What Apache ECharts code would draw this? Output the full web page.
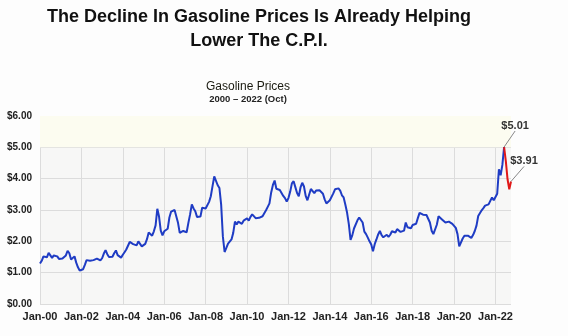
<!DOCTYPE html>
<html><head><meta charset="utf-8">
<script src="https://cdn.jsdelivr.net/npm/echarts@6/dist/echarts.min.js"></script>
<style>html,body{margin:0;padding:0;background:#fdfdfd}#c{width:568px;height:336px}</style>
</head><body><div id="c"></div>
<script>
const years = ['00','01','02','03','04','05','06','07','08','09','10','11','12','13','14','15','16','17','18','19','20','21','22'];
const monthNames = ['Jan','Feb','Mar','Apr','May','Jun','Jul','Aug','Sep','Oct','Nov','Dec'];
// Monthly US regular gasoline price ($/gal), Jan 2000 - Oct 2022
const prices = [
 1.29,1.38,1.52,1.47,1.49,1.63,1.55,1.47,1.55,1.53,1.52,1.44,
 1.45,1.45,1.41,1.55,1.70,1.62,1.42,1.42,1.52,1.32,1.17,1.07,
 1.08,1.11,1.25,1.40,1.39,1.38,1.40,1.40,1.40,1.45,1.42,1.39,
 1.46,1.61,1.72,1.59,1.50,1.49,1.51,1.62,1.71,1.56,1.51,1.48,
 1.57,1.65,1.74,1.80,1.98,1.97,1.91,1.88,1.87,2.00,1.98,1.84,
 1.82,1.92,2.07,2.28,2.22,2.18,2.32,2.51,3.04,2.79,2.34,2.19,
 2.32,2.31,2.40,2.76,2.95,2.92,3.00,2.99,2.59,2.27,2.24,2.33,
 2.27,2.29,2.59,2.86,3.18,3.05,2.96,2.78,2.79,2.79,3.07,3.02,
 3.05,3.03,3.26,3.44,3.76,4.07,4.10,3.79,3.70,3.17,2.15,1.66,
 1.79,1.93,1.95,2.06,2.27,2.63,2.54,2.63,2.57,2.56,2.66,2.62,
 2.73,2.66,2.78,2.86,2.87,2.74,2.74,2.75,2.70,2.80,2.85,2.99,
 3.10,3.21,3.56,3.80,3.94,3.68,3.65,3.64,3.61,3.45,3.38,3.27,
 3.38,3.58,3.85,3.92,3.73,3.54,3.44,3.72,3.87,3.75,3.45,3.31,
 3.32,3.67,3.71,3.54,3.62,3.63,3.63,3.57,3.52,3.34,3.21,3.25,
 3.31,3.37,3.53,3.66,3.67,3.69,3.62,3.47,3.40,3.17,2.91,2.55,
 2.05,2.19,2.41,2.40,2.67,2.76,2.75,2.60,2.31,2.23,2.12,2.00,
 1.90,1.68,1.91,2.06,2.22,2.33,2.20,2.13,2.19,2.21,2.14,2.21,
 2.32,2.27,2.28,2.39,2.35,2.30,2.25,2.34,2.60,2.45,2.51,2.42,
 2.52,2.56,2.56,2.74,2.91,2.89,2.85,2.84,2.84,2.87,2.60,2.34,
 2.23,2.27,2.53,2.80,2.84,2.70,2.71,2.60,2.59,2.63,2.59,2.56,
 2.55,2.43,2.23,1.84,1.87,2.09,2.18,2.18,2.18,2.16,2.11,2.20,
 2.33,2.50,2.81,2.86,2.99,3.06,3.14,3.16,3.18,3.29,3.40,3.31,
 3.32,3.52,4.30,4.11,4.44,5.01,4.56,3.98,3.66,3.91
];
const peakIndex = 269; // Jun-22
const yTicks = [0,1,2,3,4,5,6];

const categories = [];
years.forEach(y => monthNames.forEach(m => categories.push(m + '-' + y)));
categories.length = prices.length;

const blue = prices.map((v,i) => i <= peakIndex ? v : null);
const red = prices.map((v,i) => {
  if (i < peakIndex) return null;
  if (i === peakIndex || i === prices.length - 1) {
    return {value: v, label: {show: true}, labelLine: {show: true}};
  }
  return v;
});

const chart = echarts.init(document.getElementById('c'));
const FONT = '"Liberation Sans", Arial, sans-serif';
chart.setOption({
  animation: false,
  backgroundColor: '#fdfdfd',
  textStyle: {fontFamily: FONT},
  title: [
    {text: 'The Decline In Gasoline Prices Is Already Helping\nLower The C.P.I.', left: 254, top: 0, textAlign: 'center',
     textStyle: {fontFamily: FONT, fontSize: 18, fontWeight: 'bold', color: '#111', lineHeight: 24}},
    {text: 'Gasoline Prices', subtext: '2000 – 2022 (Oct)', left: 243, top: 76, textAlign: 'center', itemGap: 1,
     textStyle: {fontFamily: FONT, fontSize: 12, fontWeight: 'normal', color: '#1a1a10'},
     subtextStyle: {fontFamily: FONT, fontSize: 9.5, fontWeight: 'bold', color: '#222'}}
  ],
  grid: {left: 40, right: 57, top: 116, bottom: 32, show: true, backgroundColor: '#f7f7f6', borderWidth: 0},
  xAxis: {
    type: 'category', data: categories, boundaryGap: false,
    axisLine: {show: false}, axisTick: {show: false},
    axisLabel: {interval: 23, color: '#222', fontWeight: 'bold', fontSize: 11, fontFamily: FONT, margin: 7},
    splitLine: {show: true, interval: 23, lineStyle: {color: '#dcdcdc', width: 1}}
  },
  yAxis: {
    type: 'value', min: yTicks[0], max: yTicks[yTicks.length-1], interval: 1,
    axisLine: {show: false}, axisTick: {show: false},
    axisLabel: {color: '#222', fontWeight: 'bold', fontSize: 10, fontFamily: FONT, margin: 8,
      formatter: v => '$' + v.toFixed(2)},
    splitLine: {lineStyle: {color: '#dcdcdc', width: 1}}
  },
  series: [
    {type: 'line', data: blue, symbol: 'none', lineStyle: {color: '#1f3cc4', width: 2}, z: 3,
     markArea: {silent: true, itemStyle: {color: '#fcfcf0'}, data: [[{yAxis: 5}, {yAxis: 6}]]}},
    {type: 'line', data: red, symbol: 'circle', symbolSize: 0.01, showSymbol: true, showAllSymbol: true,
     itemStyle: {color: '#e01818'}, lineStyle: {color: '#e01818', width: 2}, z: 4,
     label: {show: false, position: 'top', formatter: p => '$' + p.value.toFixed(2), color: '#333', fontWeight: 'bold', fontSize: 11, fontFamily: FONT},
     labelLine: {show: true, lineStyle: {color: '#888', width: 1}},
     labelLayout: p => p.dataIndex === peakIndex ? {dx: 11, dy: -11} : {dx: 13, dy: -10}}
  ]
});
</script></body></html>
